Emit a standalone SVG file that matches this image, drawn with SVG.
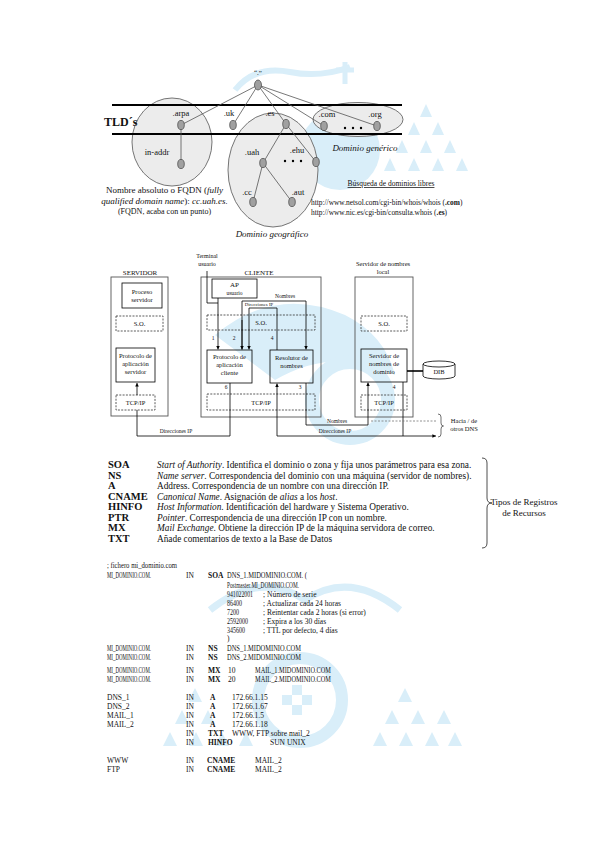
<svg xmlns="http://www.w3.org/2000/svg" width="599" height="848" viewBox="0 0 599 848">
<defs>
<style>
text{font-family:"Liberation Serif","Times New Roman",serif;fill:#111}
.lab{font-size:8.5px;text-anchor:middle}
.sm{font-size:6.5px;text-anchor:middle}
.xs{font-size:5.5px;text-anchor:middle}
.it{font-style:italic}
.b{font-weight:bold}
.dom{fill:#ececec;stroke:#666;stroke-width:0.9}
.nd{fill:#a0a0a0;stroke:#444;stroke-width:0.7}
.edge{stroke:#555;stroke-width:0.8;fill:none}
.tld{stroke:#000;stroke-width:2.2}
.outer{fill:none;stroke:#555;stroke-width:0.9}
.box{fill:none;stroke:#000;stroke-width:0.8}
.dbox{fill:none;stroke:#333;stroke-width:0.8;stroke-dasharray:2 1.3}
.ln{fill:none;stroke:#000;stroke-width:0.8}
.rec{font-size:10.5px;font-weight:bold}
.desc{font-size:9.3px}
.z{font-size:7.5px}
.wm{fill:#d9eef9}
</style>
<marker id="ah" viewBox="0 0 6 6" refX="6" refY="3" markerWidth="4.5" markerHeight="4.5" orient="auto"><path d="M0,0 L6,3 L0,6 z" fill="#000"/></marker>
</defs>
<rect width="599" height="848" fill="#fff"/>

<g id="watermark">
<circle cx="340" cy="150" r="40" class="wm"/>
<path class="wm" d="M426,104 l6,13 h-12z M414,122 l6,13 h-12z M438,122 l6,13 h-12z M402,140 l6,13 h-12z M426,140 l6,13 h-12z M450,140 l6,13 h-12z M390,158 l6,13 h-12z M414,158 l6,13 h-12z M438,158 l6,13 h-12z M462,158 l6,13 h-12z"/>
<path d="M235,90 q20,-25 55,-18 q30,6 60,-5" fill="none" stroke="#d9eef9" stroke-width="6"/>
<path d="M345,62 v22 M336,70 h18" stroke="#d9eef9" stroke-width="5"/>
<path d="M215,335 q60,-50 130,-20 q40,20 50,60 q-60,-30 -120,5 z" class="wm"/>
<circle cx="350" cy="400" r="38" fill="none" stroke="#d9eef9" stroke-width="14"/>
<circle cx="300" cy="700" r="42" fill="none" stroke="#d9eef9" stroke-width="12"/>
<path class="wm" d="M292,685 h10 v10 h-10z M302,695 h10 v10 h-10z M292,705 h10 v10 h-10z M282,695 h10 v10 h-10z"/>
<path d="M210,610 q50,-40 95,-10 q45,-30 95,10" fill="none" stroke="#d9eef9" stroke-width="7"/>
<path class="wm" d="M405,688 l7,14 h-14z M392,710 l7,14 h-14z M418,710 l7,14 h-14z M380,732 l7,14 h-14z M406,732 l7,14 h-14z M432,732 l7,14 h-14z M455,732 l7,14 h-14z M444,710 l7,14 h-14z"/>
<path class="wm" d="M195,688 l7,14 h-14z M182,710 l7,14 h-14z M208,710 l7,14 h-14z M170,732 l7,14 h-14z M196,732 l7,14 h-14z M222,732 l7,14 h-14z M246,732 l7,14 h-14z"/>
</g>

<g id="domain-tree">
<g id="domain-arpa"><ellipse cx="172" cy="142" rx="40" ry="44" class="dom"/></g>
<g id="domain-geografico"><ellipse cx="273" cy="170" rx="45" ry="57" class="dom"/>
<text x="272" y="237" class="lab it" style="font-size:9px">Dominio geográfico</text></g>
<g id="domain-generico"><ellipse cx="358" cy="119.5" rx="45" ry="17" class="dom"/>
<text x="365" y="151" class="lab it" style="font-size:9px">Dominio genérico</text></g>
<line x1="112" y1="105" x2="402" y2="105" class="tld"/>
<line x1="112" y1="134" x2="402" y2="134" class="tld"/>
<text x="104" y="126" class="b" style="font-size:12px">TLD´s</text>
<g id="tree-edges">
<path class="edge" d="M258,85 L181,125 M258,85 L233,125 M258,85 L286,124 M258,85 L324,126 M258,85 L377,126 M181,125 L181,164 M286,124 L263,163 M286,124 L316,162 M263,163 L253,202 M263,163 L292,202"/>
</g>
<g id="n-root"><ellipse cx="258" cy="85" rx="3.5" ry="5" class="nd"/><text x="258" y="75" class="lab" style="font-size:7px">“.”</text></g>
<g id="n-arpa"><ellipse cx="181" cy="125" rx="3.3" ry="4.6" class="nd"/><text x="181" y="116" class="lab">.arpa</text></g>
<g id="n-uk"><ellipse cx="233" cy="125" rx="3.3" ry="4.6" class="nd"/><text x="229" y="116" class="lab">.uk</text></g>
<g id="n-es"><ellipse cx="286" cy="124" rx="3.3" ry="4.6" class="nd"/><text x="270" y="116" class="lab">.es</text></g>
<g id="n-com"><ellipse cx="324" cy="126" rx="3.3" ry="4.6" class="nd"/><text x="327" y="117" class="lab">.com</text></g>
<g id="n-org"><ellipse cx="377" cy="126" rx="3.3" ry="4.6" class="nd"/><text x="375" y="117" class="lab">.org</text></g>
<g id="n-inaddr"><ellipse cx="181" cy="164" rx="3.3" ry="4.6" class="nd"/><text x="157" y="155" class="lab">in-addr</text></g>
<g id="n-uah"><ellipse cx="263" cy="163" rx="3.3" ry="4.6" class="nd"/><text x="252" y="155" class="lab">.uah</text></g>
<g id="n-ehu"><ellipse cx="316" cy="162" rx="3.3" ry="4.6" class="nd"/><text x="297" y="153" class="lab">.ehu</text></g>
<g id="n-cc"><ellipse cx="253" cy="202" rx="3.3" ry="4.6" class="nd"/><text x="247" y="195" class="lab">.cc</text></g>
<g id="n-aut"><ellipse cx="292" cy="202" rx="3.3" ry="4.6" class="nd"/><text x="298" y="195" class="lab">.aut</text></g>
<g id="dots"><circle cx="285" cy="161" r="1.2"/><circle cx="293" cy="161" r="1.2"/><circle cx="301" cy="161" r="1.2"/>
<circle cx="345" cy="128" r="1.2"/><circle cx="353" cy="128" r="1.2"/><circle cx="361" cy="128" r="1.2"/></g>
<g id="fqdn-note" style="font-size:9px">
<text x="164.5" y="193" text-anchor="middle">Nombre absoluto o FQDN (<tspan class="it">fully</tspan></text>
<text x="164.5" y="204" text-anchor="middle"><tspan class="it">qualified domain name</tspan>): <tspan class="it">cc.uah.es.</tspan></text>
<text x="164.5" y="214" text-anchor="middle" style="font-size:8px">(FQDN, acaba con un punto)</text>
</g>
<g id="busqueda">
<text x="391" y="186" text-anchor="middle" style="font-size:7.5px;text-decoration:underline">Búsqueda de dominios libres</text>
<text x="311" y="205" style="font-size:7.4px">http://www.netsol.com/cgi-bin/whois/whois (<tspan class="b">.com</tspan>)</text>
<text x="311" y="215" style="font-size:7.4px">http://www.nic.es/cgi-bin/consulta.whois (<tspan class="b">.es</tspan>)</text>
</g>
</g>

<g id="servidor">
<text x="140" y="275" class="sm" style="font-size:7px">SERVIDOR</text>
<rect x="111" y="277" width="57" height="139" class="outer"/>
<g id="proceso-servidor"><rect x="122" y="283" width="40" height="25" class="box"/><text x="142" y="294" class="sm">Proceso</text><text x="142" y="302" class="sm">servidor</text></g>
<g id="so-servidor"><rect x="116" y="316" width="47" height="15" class="dbox"/><text x="139.5" y="326" class="sm">S.O.</text></g>
<g id="protocolo-servidor"><rect x="116" y="348" width="39" height="34" class="box"/><text x="135.5" y="358" class="sm">Protocolo de</text><text x="135.5" y="366" class="sm">aplicación</text><text x="135.5" y="374" class="sm">servidor</text></g>
<g id="tcp-servidor"><rect x="116" y="395" width="39" height="15" class="dbox"/><text x="135.5" y="405" class="sm">TCP/IP</text></g>
</g>

<g id="cliente">
<text x="207" y="258" class="sm" style="font-size:6px">Terminal</text>
<text x="207" y="266" class="sm" style="font-size:6px">usuario</text>
<text x="259" y="275" class="sm" style="font-size:7px">CLIENTE</text>
<rect x="201" y="277" width="120" height="140" class="outer"/>
<g id="ap-usuario"><rect x="212" y="279" width="45" height="19" class="box"/><text x="234.5" y="287" class="sm" style="font-size:7px">AP</text><text x="234.5" y="295" class="sm" style="font-size:5.5px">usuario</text></g>
<g id="so-cliente"><rect x="207" y="315" width="108" height="15" class="dbox"/><text x="261" y="325" class="sm">S.O.</text></g>
<g id="protocolo-cliente"><rect x="207" y="350" width="45" height="33" class="box"/><text x="229.5" y="359" class="sm">Protocolo de</text><text x="229.5" y="367" class="sm">aplicación</text><text x="229.5" y="375" class="sm">cliente</text></g>
<g id="resolutor"><rect x="270" y="350" width="43" height="33" class="box"/><text x="291.5" y="360" class="sm">Resolutor de</text><text x="291.5" y="368" class="sm">nombres</text></g>
<g id="tcp-cliente"><rect x="207" y="394" width="108" height="16" class="dbox"/><text x="261" y="404.5" class="sm">TCP/IP</text></g>
</g>

<g id="servidor-nombres">
<text x="383" y="266" class="sm">Servidor de nombres</text>
<text x="383" y="274" class="sm">local</text>
<rect x="355" y="277" width="58" height="140" class="outer"/>
<g id="so-dns"><rect x="361" y="316" width="46" height="15" class="dbox"/><text x="384" y="326" class="sm">S.O.</text></g>
<g id="servidor-dominio"><rect x="361" y="349" width="46" height="33" class="box"/><text x="384" y="358" class="sm">Servidor de</text><text x="384" y="366" class="sm">nombres de</text><text x="384" y="374" class="sm">dominio</text></g>
<g id="tcp-dns"><rect x="361" y="395" width="46" height="15" class="dbox"/><text x="384" y="405" class="sm">TCP/IP</text></g>
</g>
<g id="dib">
<path d="M423,364 v12 a16,3 0 0 0 32,0 v-12" fill="#fff" stroke="#000" stroke-width="0.8"/>
<ellipse cx="439" cy="364" rx="16" ry="3" fill="#fff" stroke="#000" stroke-width="0.8"/>
<text x="439" y="374" class="sm">DIB</text>
</g>

<g id="connectors">
<path class="ln" d="M137,395 V383" marker-end="url(#ah)"/>
<path class="ln" d="M137,410 V436 H230 V383"/>
<path class="ln" d="M207,271 V303 H218"/>
<path class="ln" d="M218,298 V349.5" marker-end="url(#ah)"/>
<path class="ln" d="M242,349.5 V301 H306 V349.5" marker-end="url(#ah)"/>
<path class="ln" d="M242,320 V349.5" marker-end="url(#ah)"/>
<path class="ln" d="M277,350 V308 H249 V349.5" marker-end="url(#ah)"/>
<path class="ln" d="M306,383 V425 H368 V382.5" marker-end="url(#ah)"/>
<path class="ln" d="M403,382 V436 H277 V383.5" marker-end="url(#ah)"/>
<path class="ln" d="M403,436 H436" marker-end="url(#ah)"/>
<path d="M371,421 H437" fill="none" stroke="#777" stroke-width="0.8" stroke-dasharray="2 1.5"/>
<path d="M407,371 H423" fill="none" stroke="#000" stroke-width="1.6"/>
<path d="M438,414 Q441,414 441,417 V423 Q441,426 443.5,426 Q441,426 441,429 V434 Q441,437 438,437" fill="none" stroke="#333" stroke-width="0.7"/>
<text x="213" y="340" class="xs">1</text>
<text x="234" y="340" class="xs">2</text>
<text x="272" y="340" class="xs">4</text>
<text x="226" y="389" class="xs">6</text>
<text x="300" y="389" class="xs">3</text>
<text x="394" y="389" class="xs">4</text>
<text x="285" y="298" class="xs">Nombres</text>
<text x="259" y="306" class="xs" style="font-size:4.8px">Direcciones IP</text>
<text x="176" y="433" class="xs">Direcciones IP</text>
<text x="337" y="423" class="xs">Nombres</text>
<text x="335" y="433" class="xs">Direcciones IP</text>
<text x="464" y="423" class="sm">Hacia / de</text>
<text x="464" y="431" class="sm">otros DNS</text>
</g>

<g id="registros">
<text x="108" y="468" class="rec">SOA</text>
<text x="108" y="478.5" class="rec">NS</text>
<text x="108" y="489" class="rec">A</text>
<text x="108" y="499.5" class="rec">CNAME</text>
<text x="108" y="510" class="rec">HINFO</text>
<text x="108" y="520.5" class="rec">PTR</text>
<text x="108" y="531" class="rec">MX</text>
<text x="108" y="541.5" class="rec">TXT</text>
<text x="157" y="468" class="desc"><tspan class="it">Start of Authority</tspan>. Identifica el dominio o zona y fija unos parámetros para esa zona.</text>
<text x="157" y="478.5" class="desc"><tspan class="it">Name server</tspan>. Correspondencia del dominio con una máquina (servidor de nombres).</text>
<text x="157" y="489" class="desc">Address. Correspondencia de un nombre con una dirección IP.</text>
<text x="157" y="499.5" class="desc"><tspan class="it">Canonical Name</tspan>. Asignación de <tspan class="it">alias</tspan> a los <tspan class="it">host</tspan>.</text>
<text x="157" y="510" class="desc"><tspan class="it">Host Information</tspan>. Identificación del hardware y Sistema Operativo.</text>
<text x="157" y="520.5" class="desc"><tspan class="it">Pointer</tspan>. Correspondencia de una dirección IP con un nombre.</text>
<text x="157" y="531" class="desc"><tspan class="it">Mail Exchange</tspan>. Obtiene la dirección IP de la máquina servidora de correo.</text>
<text x="157" y="541.5" class="desc">Añade comentarios de texto a la Base de Datos</text>
<path d="M482,458 Q487,458 487,463 V498 Q487,503 492,503 Q487,503 487,508 V543 Q487,548 482,548" fill="none" stroke="#222" stroke-width="0.8"/>
<text x="524" y="505" class="lab" style="font-size:9px">Tipos de Registros</text>
<text x="524" y="516" class="lab" style="font-size:9px">de Recursos</text>
</g>

<g id="zona" class="z">
<text x="107" y="568" textLength="70" lengthAdjust="spacingAndGlyphs">; fichero mi_dominio.com</text>
<text x="107" y="578" textLength="44" lengthAdjust="spacingAndGlyphs">MI_DOMINIO.COM.</text>
<text x="186" y="578">IN</text><text x="208" y="578" class="b">SOA</text>
<text x="227" y="578" textLength="80" lengthAdjust="spacingAndGlyphs">DNS_1.MIDOMINIO.COM. (</text>
<text x="227" y="587.5" textLength="72" lengthAdjust="spacingAndGlyphs">Postmaster.MI_DOMINIO.COM.</text>
<text x="227" y="596.5" textLength="26" lengthAdjust="spacingAndGlyphs">941022001</text><text x="263" y="596.5">; Número de serie</text>
<text x="227" y="605.5" textLength="15" lengthAdjust="spacingAndGlyphs">86400</text><text x="263" y="605.5">; Actualizar cada 24 horas</text>
<text x="227" y="614.5" textLength="12" lengthAdjust="spacingAndGlyphs">7200</text><text x="263" y="614.5">; Reintentar cada 2 horas (si error)</text>
<text x="227" y="623.5" textLength="21" lengthAdjust="spacingAndGlyphs">2592000</text><text x="263" y="623.5">; Expira a los 30 días</text>
<text x="227" y="632.5" textLength="18" lengthAdjust="spacingAndGlyphs">345600</text><text x="263" y="632.5">; TTL por defecto, 4 días</text>
<text x="227" y="641">)</text>
<text x="107" y="651" textLength="44" lengthAdjust="spacingAndGlyphs">MI_DOMINIO.COM.</text>
<text x="186" y="651">IN</text><text x="208" y="651" class="b">NS</text>
<text x="227" y="651" textLength="74" lengthAdjust="spacingAndGlyphs">DNS_1.MIDOMINIO.COM</text>
<text x="107" y="660" textLength="44" lengthAdjust="spacingAndGlyphs">MI_DOMINIO.COM.</text>
<text x="186" y="660">IN</text><text x="208" y="660" class="b">NS</text>
<text x="227" y="660" textLength="74" lengthAdjust="spacingAndGlyphs">DNS_2.MIDOMINIO.COM</text>
<text x="107" y="673" textLength="44" lengthAdjust="spacingAndGlyphs">MI_DOMINIO.COM.</text>
<text x="186" y="673">IN</text><text x="208" y="673" class="b">MX</text><text x="228" y="673">10</text>
<text x="255" y="673" textLength="76" lengthAdjust="spacingAndGlyphs">MAIL_1.MIDOMINIO.COM</text>
<text x="107" y="682" textLength="44" lengthAdjust="spacingAndGlyphs">MI_DOMINIO.COM.</text>
<text x="186" y="682">IN</text><text x="208" y="682" class="b">MX</text><text x="228" y="682">20</text>
<text x="255" y="682" textLength="76" lengthAdjust="spacingAndGlyphs">MAIL_2.MIDOMINIO.COM</text>
<text x="107" y="700">DNS_1</text><text x="186" y="700">IN</text><text x="210" y="700" class="b">A</text><text x="232" y="700">172.66.1.15</text>
<text x="107" y="709">DNS_2</text><text x="186" y="709">IN</text><text x="210" y="709" class="b">A</text><text x="232" y="709">172.66.1.67</text>
<text x="107" y="718">MAIL_1</text><text x="186" y="718">IN</text><text x="210" y="718" class="b">A</text><text x="232" y="718">172.66.1.5</text>
<text x="107" y="727">MAIL_2</text><text x="186" y="727">IN</text><text x="210" y="727" class="b">A</text><text x="232" y="727">172.66.1.18</text>
<text x="186" y="736">IN</text><text x="208" y="736" class="b">TXT</text><text x="232" y="736">WWW, FTP sobre mail_2</text>
<text x="186" y="745">IN</text><text x="208" y="745" class="b">HINFO</text><text x="270" y="745">SUN UNIX</text>
<text x="107" y="763">WWW</text><text x="186" y="763">IN</text><text x="207" y="763" class="b">CNAME</text><text x="255" y="763">MAIL_2</text>
<text x="107" y="772">FTP</text><text x="186" y="772">IN</text><text x="207" y="772" class="b">CNAME</text><text x="255" y="772">MAIL_2</text>
</g>
</svg>
